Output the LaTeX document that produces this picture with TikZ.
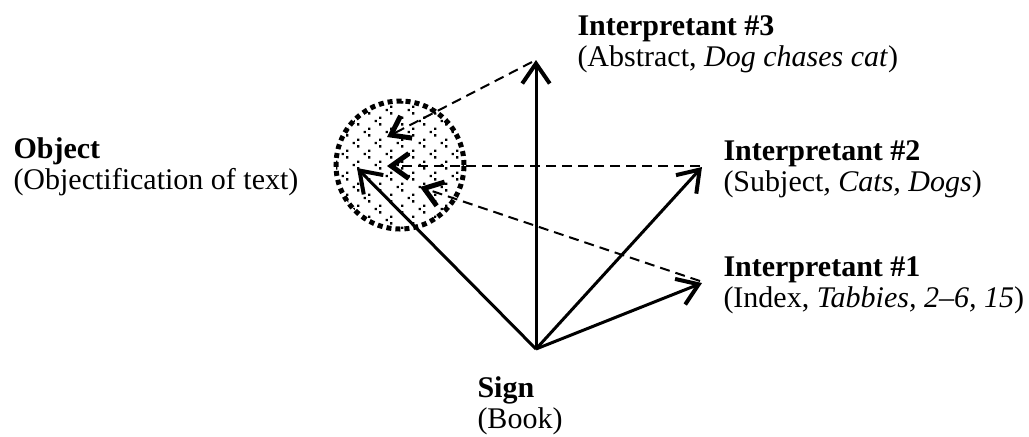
\documentclass[tikz,border=0pt]{standalone}
\usepackage{fontspec}
\setmainfont{Liberation Serif}
\usetikzlibrary{arrows.meta, positioning}

\begin{document}
\begin{tikzpicture}[
    x=0.4pt, y=-0.4pt,
    every node/.style={font=\fontsize{12}{12.4}\selectfont},
    lbl/.style={align=left, inner sep=0pt, anchor=base west},
    arrow/.style={-{Straight Barb[length=8pt, width=11pt, line width=1.6pt]}, line width=1.2pt},
    back/.style={dash pattern=on 4pt off 2.4pt, line width=0.8pt, -{Straight Barb[length=7pt, width=10pt, line width=2pt]}},
    blob/.style={circle, minimum size=51.2pt, inner sep=0pt, draw, line width=2pt, dash pattern=on 2pt off 1.6pt}
]
\useasboundingbox (0,0) rectangle (1029,436);

% object cloud with dotted texture
\node (blob) [blob, path picture={
    \foreach \r in {0,...,12}
      \foreach \c in {0,...,6} {
        \pgfmathsetmacro{\gx}{22*\c - 66 + 11*mod(\r,2)}
        \pgfmathsetmacro{\gy}{11*\r - 66}
        \fill[shift={(path picture bounding box.center)}]
          (\gx-3.5,\gy-1.2) rectangle ++(2.4,2.4)
          (\gx+1,\gy-4.5) rectangle ++(2.4,2.4)
          (\gx+1,\gy+2.1) rectangle ++(2.4,2.4);
      }
  }] at (400,165) {};

\coordinate (sign) at (536,349);
\coordinate (tip3) at (536,60);
\coordinate (tip2) at (702,167);
\coordinate (tip1) at (702,283);
\coordinate (tipo) at (357,168);
\coordinate (in3) at (387,137);
\coordinate (in2) at (387,166);
\coordinate (in1) at (420,187);
\coordinate (from3) at (532,62);
\coordinate (from2) at (700,166);
\coordinate (from1) at (700,281);

% labels (anchored at the baseline of their last line)
\node (int3) [lbl] at (577,66) {\textbf{Interpretant \#3}\\(Abstract, \textit{Dog chases cat})};
\node (int2) [lbl] at (723,191) {\textbf{Interpretant \#2}\\(Subject\textit{, Cats, Dogs})};
\node (int1) [lbl] at (723,307) {\textbf{Interpretant \#1}\\(Index, \textit{Tabbies, 2--6, 15})};
\node (obj) [lbl] at (13,189) {\textbf{Object}\\(Objectification of text)};
\node (signtxt) [lbl] at (477,428) {\textbf{Sign}\\(Book)};

\draw [arrow] (sign) -- (tip3);
\draw [arrow] (sign) -- (tip2);
\draw [arrow] (sign) -- (tip1);
\draw [arrow] (sign) -- (tipo);

\draw [back] (from3) -- (in3);
\draw [back] (from2) -- (in2);
\draw [back] (from1) -- (in1);
\end{tikzpicture}
\end{document}
